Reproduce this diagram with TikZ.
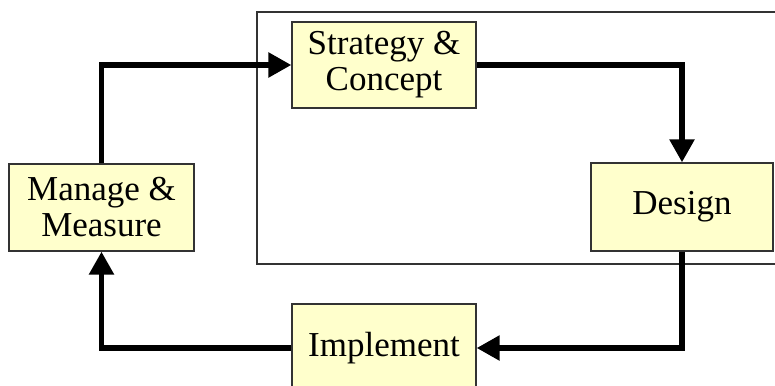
\documentclass[tikz,border=0pt]{standalone}
\usepackage{fontspec}
\setmainfont{Liberation Serif}
\usetikzlibrary{arrows.meta}
\definecolor{boxfill}{HTML}{FFFFCC}
\definecolor{boxline}{HTML}{333333}
\begin{document}
\begin{tikzpicture}[x=1pt, y=-1pt,
    stage/.style={draw=boxline, line width=1.3pt, fill=boxfill, inner sep=0pt,
        align=center, font=\fontsize{35}{36}\selectfont},
    flow/.style={line width=5.5pt, -{Triangle[length=23pt,width=24pt]}}]
    \useasboundingbox (0,0) rectangle (775,385);
    \clip (0,0) rectangle (775,385);

    \draw[boxline, line width=1.5pt] (257,12) rectangle (790,264);

    \node[stage, minimum width=184pt, minimum height=86pt] (strat) at (384,65) {Strategy \&\\Concept};
    \node[stage, minimum width=182pt, minimum height=88pt] (design) at (682,207) {Design};
    \node[stage, minimum width=184pt, minimum height=88pt] (impl) at (384,348) {Implement};
    \node[stage, minimum width=185pt, minimum height=87pt] (manage) at (101.5,207.5) {Manage \&\\Measure};

    \draw[flow] (manage.north) |- (strat.west);
    \draw[flow] (strat.east) -| (design.north);
    \draw[flow] (design.south) |- (impl.east);
    \draw[flow] (impl.west) -| (manage.south);
\end{tikzpicture}
\end{document}
